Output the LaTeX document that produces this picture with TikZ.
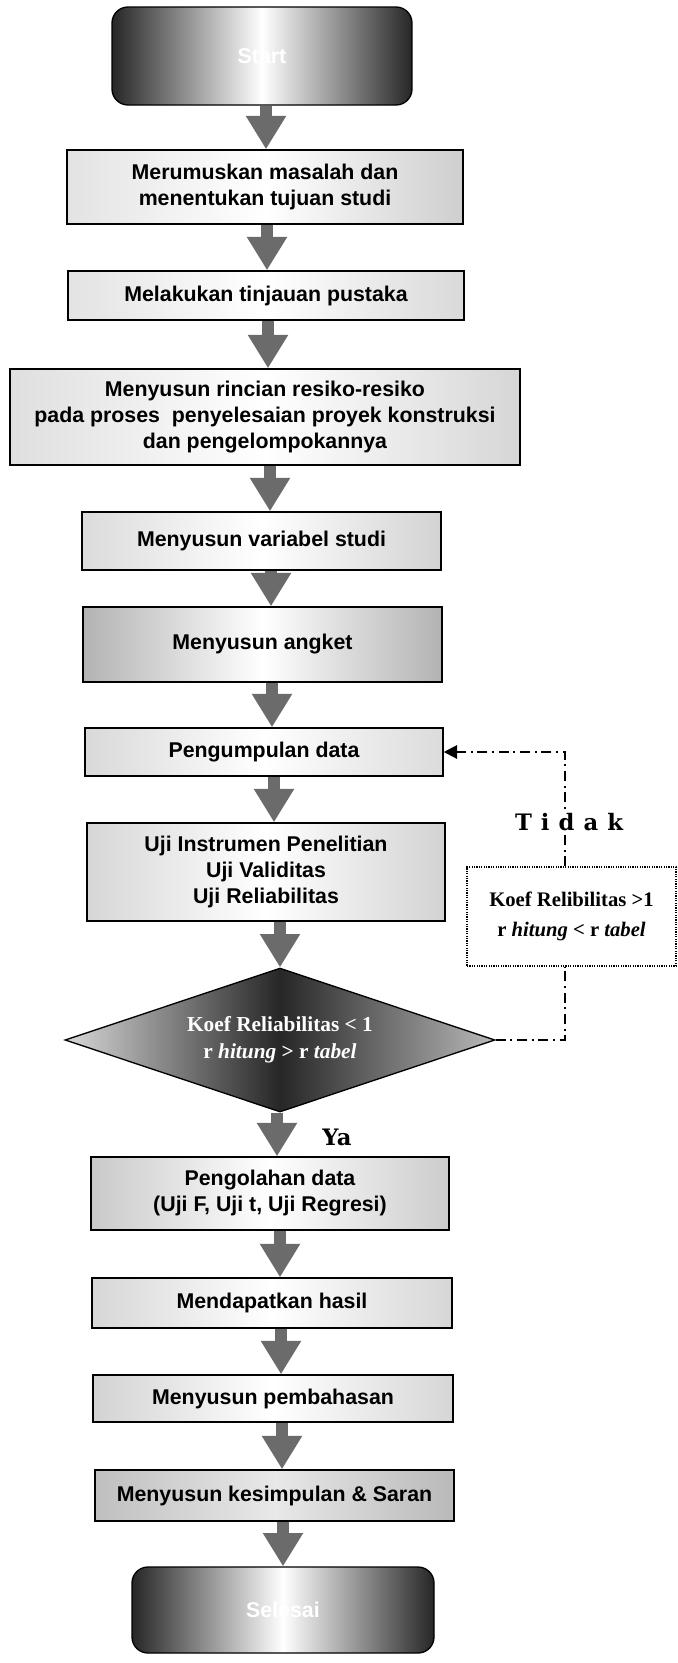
\documentclass[tikz,border=0pt]{standalone}
\usepackage{fontspec}
\setmainfont{Liberation Sans}
\newfontfamily\timesf{Liberation Serif}
\newfontfamily\slabf[LetterSpace=40]{DejaVu Serif}
\newfontfamily\slabplain{DejaVu Serif}
\usetikzlibrary{shapes.geometric,arrows.meta,calc}

\tikzset{
  flowbox/.style={draw=black, line width=1.1pt, rectangle, inner sep=0pt, align=center,
    font=\fontsize{16}{19.5}\selectfont\bfseries},
  termbox/.style={draw=black, line width=1pt, rectangle, rounded corners=12pt, inner sep=0pt,
    left color=black!85, right color=black!85, middle color=white, text=white,
    font=\fontsize{16}{19.5}\selectfont\bfseries},
  fatarrow/.style={draw=black!58, line width=9pt, -{Triangle[length=25pt,width=28.5pt]}},
  loopline/.style={draw=black, line width=1.5pt, dash pattern=on 7.5pt off 3.5pt on 1.5pt off 3.5pt},
  checkbox/.style={draw=black, line width=0.8pt, dash pattern=on 0.9pt off 0.9pt, fill=white,
    inner sep=0pt, align=center, font=\timesf\fontsize{15.5}{22}\selectfont\bfseries},
  decision/.style={diamond, draw=black, line width=1pt, aspect=3, inner sep=0pt,
    left color=gray!30, right color=gray!55, middle color=black!85, text=white, align=center,
    font=\timesf\fontsize{16}{20}\selectfont\bfseries},
  answer/.style={font=\slabplain\fontsize{17}{20}\selectfont\bfseries}
}

\newcommand{\flowrect}[8]{%
  \node[flowbox, left color=#6, right color=#7, middle color=white,
    minimum width={(#4-#2)*0.75pt}, minimum height={(#5-#3)*0.75pt}]
    (#1) at ({(#2+#4)/2},{(#3+#5)/2}) {#8};}

\begin{document}
\begin{tikzpicture}[x=0.75pt, y=-0.75pt]
\useasboundingbox (0,0) rectangle (678,1663);
\fill[white] (0,0) rectangle (678,1663);

% terminals
\node[termbox, minimum width={300*0.75pt}, minimum height={98*0.75pt}] (st) at (262,56) {Start};
\node[termbox, minimum width={302*0.75pt}, minimum height={86*0.75pt}] (en) at (283,1610) {Selesai};

% process boxes
\flowrect{b1}{67}{150}{463}{224}{gray!22}{gray!38}{Merumuskan masalah dan\\menentukan tujuan studi}
\flowrect{b2}{68}{271}{464}{320}{gray!22}{gray!30}{Melakukan tinjauan pustaka}
\flowrect{b3}{10}{369}{520}{465}{gray!25}{gray!32}{Menyusun rincian resiko-resiko\\pada proses~ penyelesaian proyek konstruksi\\dan pengelompokannya}
\flowrect{b4}{82}{512}{441}{570}{gray!28}{gray!35}{Menyusun variabel studi}
\flowrect{b5}{83}{607}{442}{682}{gray!60}{gray!60}{Menyusun angket}
\flowrect{b6}{85}{728}{443}{776}{gray!30}{gray!28}{Pengumpulan data}
\flowrect{b7}{87}{823}{445}{921}{gray!32}{gray!35}{Uji Instrumen Penelitian\\Uji Validitas\\Uji Reliabilitas}
\node[decision, minimum width={430*0.75pt}, minimum height={144*0.75pt}] (dia) at (280,1040)
  {Koef Reliabilitas < 1\\r \textit{hitung} > r \textit{tabel}};
\flowrect{b8}{91}{1157}{449}{1230}{gray!42}{gray!40}{Pengolahan data\\(Uji F, Uji t, Uji Regresi)}
\flowrect{b9}{92}{1278}{452}{1328}{gray!32}{gray!32}{Mendapatkan hasil}
\flowrect{b10}{93}{1375}{453}{1422}{gray!35}{gray!32}{Menyusun pembahasan}
\node[flowbox, left color=gray!50, right color=gray!55, middle color=gray!18,
  minimum width={359*0.75pt}, minimum height={51*0.75pt}] (b11) at (274.5,1495.5) {Menyusun kesimpulan \& Saran};

% check box on the loop
\node[checkbox, minimum width={209*0.75pt}, minimum height={99*0.75pt}] (chk) at (571.5,916.5)
  {Koef Relibilitas >1\\r \textit{hitung} < r \textit{tabel}};

% fat arrows
\foreach \a/\b/\x in {st/b1/266, b1/b2/267, b2/b3/268, b3/b4/270, b4/b5/271, b5/b6/272,
                      b6/b7/274, b7/dia/280, dia/b8/277, b8/b9/280, b9/b10/281, b10/b11/282, b11/en/283}{
  \coordinate (ax) at (\x,0);
  \draw[fatarrow] (\a.south -| ax) -- (\b.north -| ax);
}

% feedback loop
\coordinate (lx) at (565,0);
\draw[loopline] (dia.east) -- (dia.east -| lx) -- (chk.south -| lx);
\draw[loopline, -{Triangle[length=10pt,width=10pt]}] (chk.north -| lx) -- (b6.east -| lx) -- (b6.east);

\node[font=\slabf\fontsize{17}{20}\selectfont\bfseries, fill=white, inner sep=2pt] (tidak) at (569,822) {Tidak};
\node[answer] (ya) at (337,1137) {Ya};
\end{tikzpicture}
\end{document}
